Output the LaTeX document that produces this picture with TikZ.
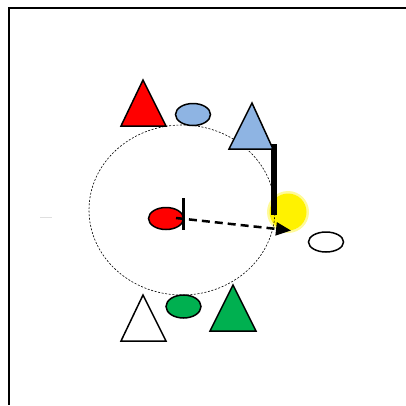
\documentclass[tikz,border=0pt]{standalone}
\usetikzlibrary{shapes.geometric,arrows.meta}

\definecolor{cblue}{HTML}{8EB4E3}
\definecolor{cgreen}{HTML}{00B050}

\tikzstyle{ball} = [
ellipse,
draw=black,
line width=1.5pt,
minimum width=35pt,
minimum height=22pt,
inner sep=0pt
]
\tikzstyle{cone} = [
draw=black,
line width=1.5pt,
line join=miter
]
\tikzstyle{wall} = [
line width=6pt
]
\tikzstyle{arrow} = [
line width=2.5pt,
dash pattern=on 8pt off 5pt,
-{Triangle[length=15pt,width=13pt]}
]

\begin{document}
\begin{tikzpicture}[x=1pt, y=-1pt]

\useasboundingbox (0,0) rectangle (406,405);

% Frame
\draw[line width=1.6pt] (8,8.2) -- (406,8.2);
\draw[line width=2.4pt] (9.2,7.4) -- (9.2,405);
\draw[gray!25, line width=1pt] (40,217) -- (52,217);

% Zone
\fill[yellow!40] (288,212) circle (21);
\fill[yellow] (288,212) circle (18.5);
\draw[line width=0.6pt, dash pattern=on 2pt off 1.6pt] (182,210) ellipse (93 and 85);

% Walls
\draw[wall] (274,144) -- (274,215);
\draw[line width=3.5pt] (183.5,198) -- (183.5,230);

% Cones
\draw[cone, fill=red] (121,126) -- (143,80) -- (166,126) -- cycle;
\draw[cone, fill=cblue] (229,149) -- (252,103) -- (273,149) -- cycle;
\draw[cone, fill=white] (121,341) -- (143,295) -- (166,341) -- cycle;
\draw[cone, fill=cgreen] (210,331) -- (233,285) -- (256,331) -- cycle;

% Nodes
\node (blueball) [ball, fill=cblue] at (193,114.5) {};
\node (redball) [ball, fill=red] at (166,218.5) {};
\node (greenball) [ball, fill=cgreen, minimum height=23pt] at (183.5,306.5) {};
\node (whiteball) [ball, fill=white, minimum height=20pt] at (326,242) {};

\coordinate (kick) at (176,218);
\coordinate (target) at (291,230.5);

% Arrows
\draw [arrow] (kick) -- (target);

\end{tikzpicture}
\end{document}
